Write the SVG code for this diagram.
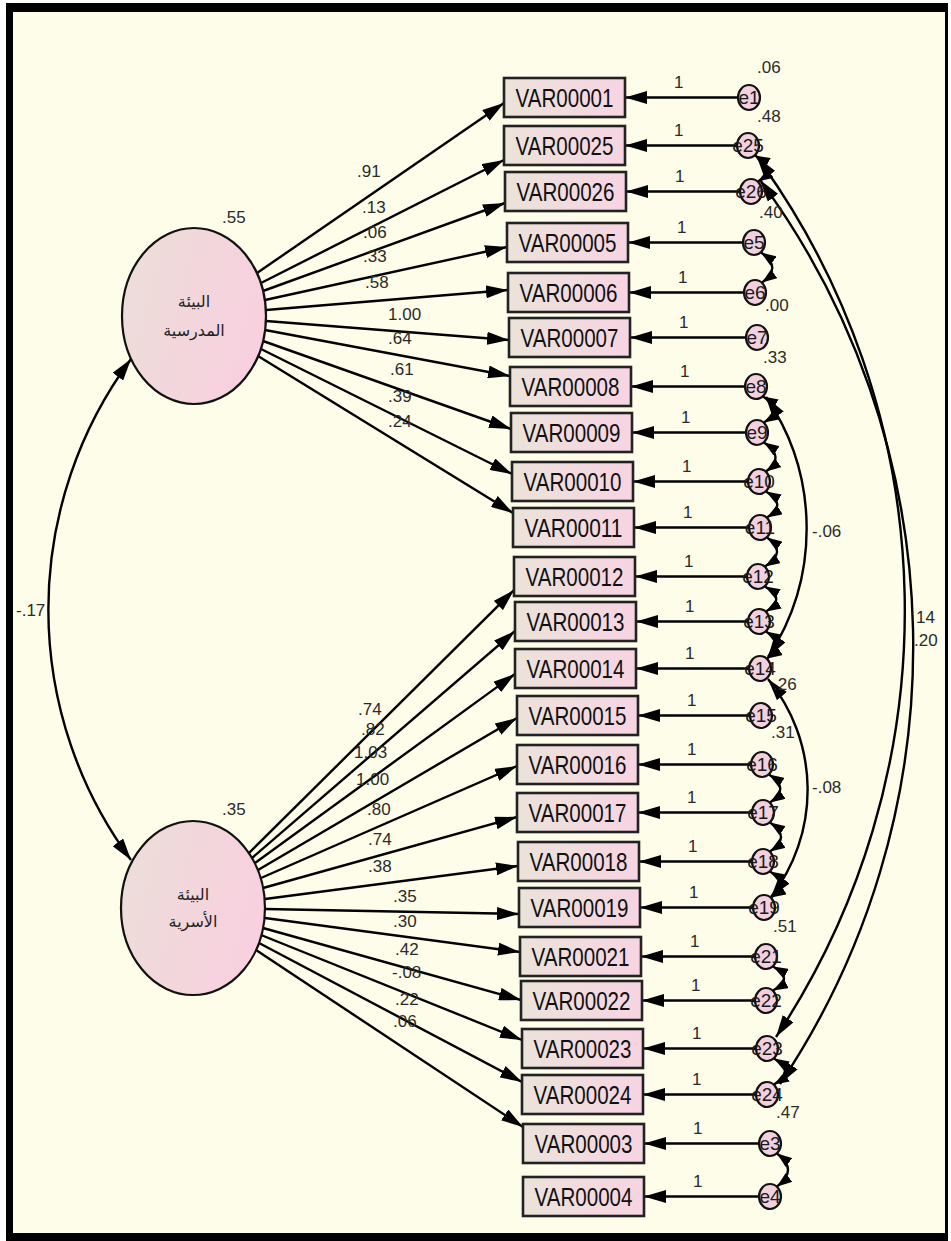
<svg xmlns="http://www.w3.org/2000/svg" width="951" height="1241" viewBox="0 0 951 1241">
<defs>
<linearGradient id="gBox" x1="0" y1="0" x2="1" y2="0"><stop offset="0" stop-color="#ebe3da"/><stop offset="1" stop-color="#f7d4e2"/></linearGradient>
<linearGradient id="gLat" x1="0" y1="0" x2="1" y2="0.3"><stop offset="0" stop-color="#ebdfd8"/><stop offset="1" stop-color="#f8d0df"/></linearGradient>
<marker id="ah" viewBox="0 0 22 13" refX="22" refY="6.5" markerWidth="22" markerHeight="13" markerUnits="userSpaceOnUse" orient="auto-start-reverse"><path d="M0,0 L22,6.5 L0,13 z" fill="#000"/></marker>
<marker id="as" viewBox="0 0 15 11" refX="15" refY="5.5" markerWidth="15" markerHeight="11" markerUnits="userSpaceOnUse" orient="auto-start-reverse"><path d="M0,0 L15,5.5 L0,11 z" fill="#000"/></marker>
<style>
.bx{fill:url(#gBox);stroke:#222;stroke-width:2.6}
.bt{font-family:"Liberation Sans",Arial,sans-serif;font-size:25px;fill:#111;text-anchor:middle}
.lat{fill:url(#gLat);stroke:#111;stroke-width:2.2}
.at{font-family:"DejaVu Sans","Noto Sans",sans-serif;font-size:16px;fill:#222;text-anchor:middle}
.er{fill:#f2d0de;stroke:#111;stroke-width:2.2}
.et{font-family:"Liberation Sans",Arial,sans-serif;font-size:19px;fill:#1a1a1a;text-anchor:middle}
.n{font-family:"Liberation Sans",Arial,sans-serif;font-size:17px;fill:#2a2a2a}
.p{fill:none;stroke:#000;stroke-width:2.4;marker-end:url(#ah)}
.c{fill:none;stroke:#000;stroke-width:2.4;marker-start:url(#ah);marker-end:url(#ah)}
.cs{fill:none;stroke:#000;stroke-width:2.4;marker-start:url(#as);marker-end:url(#as)}
</style>
</defs>
<rect width="951" height="1241" fill="#ffffff"/>
<rect x="6" y="3" width="942" height="1238" fill="#000"/>
<rect x="13" y="12" width="932" height="1221" fill="#fefde9"/>

<g id="connectors">
<path class="p" d="M257,273 L504,103"/>
<path class="p" d="M261,283 L504,160"/>
<path class="p" d="M263,291 L505,203"/>
<path class="p" d="M265,300 L507,247"/>
<path class="p" d="M266,310 L508,290"/>
<path class="p" d="M266,321 L509,340"/>
<path class="p" d="M265,330 L510,376"/>
<path class="p" d="M263,341 L511,429"/>
<path class="p" d="M261,349 L512,474"/>
<path class="p" d="M258,356 L513,513"/>
<path class="p" d="M249,853 L514,590"/>
<path class="p" d="M252,858 L515,631"/>
<path class="p" d="M255,863 L515,674"/>
<path class="p" d="M258,870 L517,718"/>
<path class="p" d="M261,878 L517,766"/>
<path class="p" d="M263,888 L517,817"/>
<path class="p" d="M265,899 L518,866"/>
<path class="p" d="M265,909 L519,914"/>
<path class="p" d="M265,918 L520,952"/>
<path class="p" d="M263,928 L521,1000"/>
<path class="p" d="M261,935 L522,1040"/>
<path class="p" d="M259,943 L522,1082"/>
<path class="p" d="M256,950 L523,1127"/>
<path class="p" d="M738,97.5 L625,97.5"/>
<path class="p" d="M737,145.5 L625,145.5"/>
<path class="p" d="M740,191.5 L626,191.5"/>
<path class="p" d="M743,242.5 L628,242.5"/>
<path class="p" d="M744,292.5 L629,292.5"/>
<path class="p" d="M746,337.5 L630,337.5"/>
<path class="p" d="M745,386.5 L631,386.5"/>
<path class="p" d="M746,432.5 L632,432.5"/>
<path class="p" d="M748,481.5 L633,481.5"/>
<path class="p" d="M749,527.5 L634,527.5"/>
<path class="p" d="M747,576.5 L635,576.5"/>
<path class="p" d="M748,621.5 L636,621.5"/>
<path class="p" d="M749,668.5 L636,668.5"/>
<path class="p" d="M750,715.5 L638,715.5"/>
<path class="p" d="M751,764.5 L638,764.5"/>
<path class="p" d="M752,812.5 L638,812.5"/>
<path class="p" d="M752,861.5 L639,861.5"/>
<path class="p" d="M753,907.5 L640,907.5"/>
<path class="p" d="M755,956.5 L641,956.5"/>
<path class="p" d="M755,1000.5 L642,1000.5"/>
<path class="p" d="M756,1048.5 L643,1048.5"/>
<path class="p" d="M756,1094.5 L643,1094.5"/>
<path class="p" d="M759,1143.5 L644,1143.5"/>
<path class="p" d="M759,1196.5 L644,1196.5"/>
<path class="c" d="M131,359 A421,421 0 0 0 131,860"/>
<path class="c" d="M757,157 A770,770 0 0 1 776,1037"/>
<path class="c" d="M760,180 A786,786 0 0 1 780,1084"/>
<path class="c" d="M766,397 A233,233 0 0 1 768,657"/>
<path class="c" d="M768,679 A175,175 0 0 1 771,897"/>
<path class="cs" d="M755,155.5 Q778,168.5 758,181.5"/>
<path class="cs" d="M761,252.5 Q783,267.5 762,282.5"/>
<path class="cs" d="M763,396.5 Q785,409.5 764,422.5"/>
<path class="cs" d="M764,442.5 Q786,457 766,471.5"/>
<path class="cs" d="M766,491.5 Q788,504.5 767,517.5"/>
<path class="cs" d="M767,537.5 Q788,552 765,566.5"/>
<path class="cs" d="M765,586.5 Q787,599 766,611.5"/>
<path class="cs" d="M766,631.5 Q788,645 767,658.5"/>
<path class="cs" d="M769,774.5 Q791,788.5 770,802.5"/>
<path class="cs" d="M770,822.5 Q792,837 770,851.5"/>
<path class="cs" d="M770,871.5 Q792,884.5 771,897.5"/>
<path class="cs" d="M773,966.5 Q795,978.5 773,990.5"/>
<path class="cs" d="M774,1058.5 Q796,1071.5 774,1084.5"/>
<path class="cs" d="M777,1153.5 Q799,1170 777,1186.5"/>
</g>

<g id="latent1"><ellipse class="lat" cx="194" cy="316" rx="72" ry="88"/><text class="at" x="194" y="307">البيئة</text><text class="at" x="194" y="336">المدرسية</text></g>
<g id="latent2"><ellipse class="lat" cx="193" cy="908" rx="72" ry="87"/><text class="at" x="193" y="900">البيئة</text><text class="at" x="193" y="927">الأسرية</text></g>

<g id="boxes">
<g id="VAR00001"><rect class="bx" x="504" y="78" width="121" height="39"/><text class="bt" x="564.5" y="106.5" textLength="98" lengthAdjust="spacingAndGlyphs">VAR00001</text></g>
<g id="VAR00025"><rect class="bx" x="504" y="126" width="121" height="39"/><text class="bt" x="564.5" y="154.5" textLength="98" lengthAdjust="spacingAndGlyphs">VAR00025</text></g>
<g id="VAR00026"><rect class="bx" x="505" y="172" width="121" height="39"/><text class="bt" x="565.5" y="200.5" textLength="98" lengthAdjust="spacingAndGlyphs">VAR00026</text></g>
<g id="VAR00005"><rect class="bx" x="507" y="223" width="121" height="39"/><text class="bt" x="567.5" y="251.5" textLength="98" lengthAdjust="spacingAndGlyphs">VAR00005</text></g>
<g id="VAR00006"><rect class="bx" x="508" y="273" width="121" height="39"/><text class="bt" x="568.5" y="301.5" textLength="98" lengthAdjust="spacingAndGlyphs">VAR00006</text></g>
<g id="VAR00007"><rect class="bx" x="509" y="318" width="121" height="39"/><text class="bt" x="569.5" y="346.5" textLength="98" lengthAdjust="spacingAndGlyphs">VAR00007</text></g>
<g id="VAR00008"><rect class="bx" x="510" y="367" width="121" height="39"/><text class="bt" x="570.5" y="395.5" textLength="98" lengthAdjust="spacingAndGlyphs">VAR00008</text></g>
<g id="VAR00009"><rect class="bx" x="511" y="413" width="121" height="39"/><text class="bt" x="571.5" y="441.5" textLength="98" lengthAdjust="spacingAndGlyphs">VAR00009</text></g>
<g id="VAR00010"><rect class="bx" x="512" y="462" width="121" height="39"/><text class="bt" x="572.5" y="490.5" textLength="98" lengthAdjust="spacingAndGlyphs">VAR00010</text></g>
<g id="VAR00011"><rect class="bx" x="513" y="508" width="121" height="39"/><text class="bt" x="573.5" y="536.5" textLength="98" lengthAdjust="spacingAndGlyphs">VAR00011</text></g>
<g id="VAR00012"><rect class="bx" x="514" y="557" width="121" height="39"/><text class="bt" x="574.5" y="585.5" textLength="98" lengthAdjust="spacingAndGlyphs">VAR00012</text></g>
<g id="VAR00013"><rect class="bx" x="515" y="602" width="121" height="39"/><text class="bt" x="575.5" y="630.5" textLength="98" lengthAdjust="spacingAndGlyphs">VAR00013</text></g>
<g id="VAR00014"><rect class="bx" x="515" y="649" width="121" height="39"/><text class="bt" x="575.5" y="677.5" textLength="98" lengthAdjust="spacingAndGlyphs">VAR00014</text></g>
<g id="VAR00015"><rect class="bx" x="517" y="696" width="121" height="39"/><text class="bt" x="577.5" y="724.5" textLength="98" lengthAdjust="spacingAndGlyphs">VAR00015</text></g>
<g id="VAR00016"><rect class="bx" x="517" y="745" width="121" height="39"/><text class="bt" x="577.5" y="773.5" textLength="98" lengthAdjust="spacingAndGlyphs">VAR00016</text></g>
<g id="VAR00017"><rect class="bx" x="517" y="793" width="121" height="39"/><text class="bt" x="577.5" y="821.5" textLength="98" lengthAdjust="spacingAndGlyphs">VAR00017</text></g>
<g id="VAR00018"><rect class="bx" x="518" y="842" width="121" height="39"/><text class="bt" x="578.5" y="870.5" textLength="98" lengthAdjust="spacingAndGlyphs">VAR00018</text></g>
<g id="VAR00019"><rect class="bx" x="519" y="888" width="121" height="39"/><text class="bt" x="579.5" y="916.5" textLength="98" lengthAdjust="spacingAndGlyphs">VAR00019</text></g>
<g id="VAR00021"><rect class="bx" x="520" y="937" width="121" height="39"/><text class="bt" x="580.5" y="965.5" textLength="98" lengthAdjust="spacingAndGlyphs">VAR00021</text></g>
<g id="VAR00022"><rect class="bx" x="521" y="981" width="121" height="39"/><text class="bt" x="581.5" y="1009.5" textLength="98" lengthAdjust="spacingAndGlyphs">VAR00022</text></g>
<g id="VAR00023"><rect class="bx" x="522" y="1029" width="121" height="39"/><text class="bt" x="582.5" y="1057.5" textLength="98" lengthAdjust="spacingAndGlyphs">VAR00023</text></g>
<g id="VAR00024"><rect class="bx" x="522" y="1075" width="121" height="39"/><text class="bt" x="582.5" y="1103.5" textLength="98" lengthAdjust="spacingAndGlyphs">VAR00024</text></g>
<g id="VAR00003"><rect class="bx" x="523" y="1124" width="121" height="39"/><text class="bt" x="583.5" y="1152.5" textLength="98" lengthAdjust="spacingAndGlyphs">VAR00003</text></g>
<g id="VAR00004"><rect class="bx" x="523" y="1177" width="121" height="39"/><text class="bt" x="583.5" y="1205.5" textLength="98" lengthAdjust="spacingAndGlyphs">VAR00004</text></g>
</g>

<g id="errors">
<g id="e1"><ellipse class="er" cx="749" cy="97.5" rx="11" ry="12.5"/><text class="et" x="749" y="104">e1</text></g>
<g id="e25"><ellipse class="er" cx="748" cy="145.5" rx="11" ry="12.5"/><text class="et" x="748" y="152">e25</text></g>
<g id="e26"><ellipse class="er" cx="751" cy="191.5" rx="11" ry="12.5"/><text class="et" x="751" y="198">e26</text></g>
<g id="e5"><ellipse class="er" cx="754" cy="242.5" rx="11" ry="12.5"/><text class="et" x="754" y="249">e5</text></g>
<g id="e6"><ellipse class="er" cx="755" cy="292.5" rx="11" ry="12.5"/><text class="et" x="755" y="299">e6</text></g>
<g id="e7"><ellipse class="er" cx="757" cy="337.5" rx="11" ry="12.5"/><text class="et" x="757" y="344">e7</text></g>
<g id="e8"><ellipse class="er" cx="756" cy="386.5" rx="11" ry="12.5"/><text class="et" x="756" y="393">e8</text></g>
<g id="e9"><ellipse class="er" cx="757" cy="432.5" rx="11" ry="12.5"/><text class="et" x="757" y="439">e9</text></g>
<g id="e10"><ellipse class="er" cx="759" cy="481.5" rx="11" ry="12.5"/><text class="et" x="759" y="488">e10</text></g>
<g id="e11"><ellipse class="er" cx="760" cy="527.5" rx="11" ry="12.5"/><text class="et" x="760" y="534">e11</text></g>
<g id="e12"><ellipse class="er" cx="758" cy="576.5" rx="11" ry="12.5"/><text class="et" x="758" y="583">e12</text></g>
<g id="e13"><ellipse class="er" cx="759" cy="621.5" rx="11" ry="12.5"/><text class="et" x="759" y="628">e13</text></g>
<g id="e14"><ellipse class="er" cx="760" cy="668.5" rx="11" ry="12.5"/><text class="et" x="760" y="675">e14</text></g>
<g id="e15"><ellipse class="er" cx="761" cy="715.5" rx="11" ry="12.5"/><text class="et" x="761" y="722">e15</text></g>
<g id="e16"><ellipse class="er" cx="762" cy="764.5" rx="11" ry="12.5"/><text class="et" x="762" y="771">e16</text></g>
<g id="e17"><ellipse class="er" cx="763" cy="812.5" rx="11" ry="12.5"/><text class="et" x="763" y="819">e17</text></g>
<g id="e18"><ellipse class="er" cx="763" cy="861.5" rx="11" ry="12.5"/><text class="et" x="763" y="868">e18</text></g>
<g id="e19"><ellipse class="er" cx="764" cy="907.5" rx="11" ry="12.5"/><text class="et" x="764" y="914">e19</text></g>
<g id="e21"><ellipse class="er" cx="766" cy="956.5" rx="11" ry="12.5"/><text class="et" x="766" y="963">e21</text></g>
<g id="e22"><ellipse class="er" cx="766" cy="1000.5" rx="11" ry="12.5"/><text class="et" x="766" y="1007">e22</text></g>
<g id="e23"><ellipse class="er" cx="767" cy="1048.5" rx="11" ry="12.5"/><text class="et" x="767" y="1055">e23</text></g>
<g id="e24"><ellipse class="er" cx="767" cy="1094.5" rx="11" ry="12.5"/><text class="et" x="767" y="1101">e24</text></g>
<g id="e3"><ellipse class="er" cx="770" cy="1143.5" rx="11" ry="12.5"/><text class="et" x="770" y="1150">e3</text></g>
<g id="e4"><ellipse class="er" cx="770" cy="1196.5" rx="11" ry="12.5"/><text class="et" x="770" y="1203">e4</text></g>
</g>

<g id="labels">
<text class="n" x="222" y="223">.55</text>
<text class="n" x="222" y="815">.35</text>
<text class="n" x="16" y="616">-.17</text>
<text class="n" x="357" y="177">.91</text>
<text class="n" x="362" y="213">.13</text>
<text class="n" x="363" y="238">.06</text>
<text class="n" x="363" y="262">.33</text>
<text class="n" x="365" y="288">.58</text>
<text class="n" x="388" y="320">1.00</text>
<text class="n" x="388" y="344">.64</text>
<text class="n" x="390" y="375">.61</text>
<text class="n" x="388" y="402">.39</text>
<text class="n" x="388" y="427">.24</text>
<text class="n" x="358" y="715">.74</text>
<text class="n" x="361" y="735">.82</text>
<text class="n" x="354" y="758">1.03</text>
<text class="n" x="356" y="785">1.00</text>
<text class="n" x="367" y="815">.80</text>
<text class="n" x="368" y="845">.74</text>
<text class="n" x="368" y="872">.38</text>
<text class="n" x="393" y="902">.35</text>
<text class="n" x="393" y="927">.30</text>
<text class="n" x="395" y="955">.42</text>
<text class="n" x="392" y="978">-.08</text>
<text class="n" x="395" y="1005">.22</text>
<text class="n" x="393" y="1027">.06</text>
<text class="n" x="674" y="88">1</text>
<text class="n" x="674" y="136">1</text>
<text class="n" x="675" y="182">1</text>
<text class="n" x="677" y="233">1</text>
<text class="n" x="678" y="283">1</text>
<text class="n" x="679" y="328">1</text>
<text class="n" x="680" y="377">1</text>
<text class="n" x="681" y="423">1</text>
<text class="n" x="682" y="472">1</text>
<text class="n" x="683" y="518">1</text>
<text class="n" x="684" y="567">1</text>
<text class="n" x="685" y="612">1</text>
<text class="n" x="685" y="659">1</text>
<text class="n" x="687" y="706">1</text>
<text class="n" x="687" y="755">1</text>
<text class="n" x="687" y="803">1</text>
<text class="n" x="688" y="852">1</text>
<text class="n" x="689" y="898">1</text>
<text class="n" x="690" y="947">1</text>
<text class="n" x="691" y="991">1</text>
<text class="n" x="692" y="1039">1</text>
<text class="n" x="692" y="1085">1</text>
<text class="n" x="693" y="1134">1</text>
<text class="n" x="693" y="1187">1</text>
<text class="n" x="757" y="73">.06</text>
<text class="n" x="757" y="122">.48</text>
<text class="n" x="759" y="218">.40</text>
<text class="n" x="765" y="311">.00</text>
<text class="n" x="763" y="363">.33</text>
<text class="n" x="773" y="690">.26</text>
<text class="n" x="771" y="738">.31</text>
<text class="n" x="773" y="932">.51</text>
<text class="n" x="776" y="1118">.47</text>
<text class="n" x="812" y="537">-.06</text>
<text class="n" x="812" y="793">-.08</text>
<text class="n" x="916" y="623">14</text>
<text class="n" x="914" y="646">.20</text>
</g>
</svg>
